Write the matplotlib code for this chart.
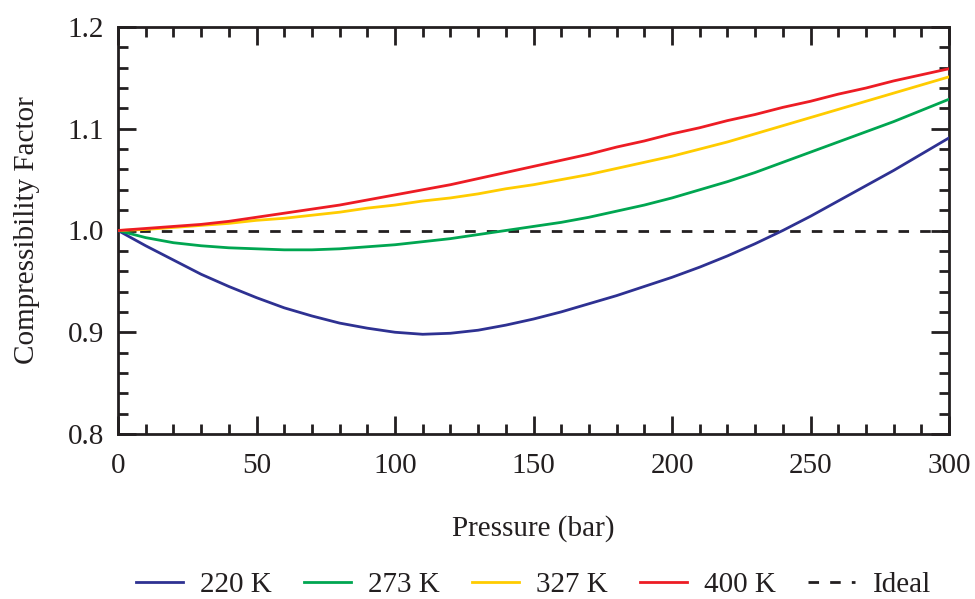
import numpy as np
import matplotlib
matplotlib.use("Agg")
import matplotlib.pyplot as plt
from matplotlib.ticker import MultipleLocator

pressure = list(range(0, 301, 10))

z_220 = [1.000, 0.985, 0.971, 0.957, 0.945, 0.934, 0.924, 0.916, 0.909, 0.904,
         0.900, 0.898, 0.899, 0.902, 0.907, 0.913, 0.920, 0.928, 0.936, 0.945,
         0.954, 0.964, 0.975, 0.987, 1.000, 1.014, 1.029, 1.044, 1.059, 1.075, 1.091]
z_273 = [1.000, 0.993, 0.988, 0.985, 0.983, 0.982, 0.981, 0.981, 0.982, 0.984,
         0.986, 0.989, 0.992, 0.996, 1.000, 1.004, 1.008, 1.013, 1.019, 1.025,
         1.032, 1.040, 1.048, 1.057, 1.067, 1.077, 1.087, 1.097, 1.107, 1.118, 1.129]
z_327 = [1.000, 1.001, 1.003, 1.005, 1.007, 1.010, 1.012, 1.015, 1.018, 1.022,
         1.025, 1.029, 1.032, 1.036, 1.041, 1.045, 1.050, 1.055, 1.061, 1.067,
         1.073, 1.080, 1.087, 1.095, 1.103, 1.111, 1.119, 1.127, 1.135, 1.143, 1.151]
z_400 = [1.000, 1.002, 1.004, 1.006, 1.009, 1.013, 1.017, 1.021, 1.025, 1.030,
         1.035, 1.040, 1.045, 1.051, 1.057, 1.063, 1.069, 1.075, 1.082, 1.088,
         1.095, 1.101, 1.108, 1.114, 1.121, 1.127, 1.134, 1.140, 1.147, 1.153, 1.159]

series_labels = ["220 K", "273 K", "327 K", "400 K"]
series_colors = ["#2E3192", "#00A651", "#FFCC00", "#ED1C24"]
ideal_x = [0, 300]
ideal_z = [1.0, 1.0]

plt.rcParams['font.family'] = ['Liberation Serif', 'DejaVu Serif']
fs = 21

fig = plt.figure(figsize=(9.75, 5.99), dpi=100)
ax = fig.add_axes([118/975, 1-434/599, (949-118)/975, (434-27)/599])

for z, lab, col in zip([z_220, z_273, z_327, z_400], series_labels, series_colors):
    ax.plot(pressure, z, color=col, lw=2.0, label=lab, zorder=3)
ax.plot(ideal_x, ideal_z, color="#231F20", lw=2.0, dashes=(3.8, 4.0), label="Ideal", zorder=2)

ax.set_xlim(0, 300)
ax.set_ylim(0.8, 1.2)
ax.xaxis.set_major_locator(MultipleLocator(50))
ax.xaxis.set_minor_locator(MultipleLocator(10))
ax.yaxis.set_major_locator(MultipleLocator(0.1))
ax.yaxis.set_minor_locator(MultipleLocator(0.02))
ax.set_xticks([0, 50, 100, 150, 200, 250, 300])
ax.set_xticklabels(["0", "50", "100", "150", "200", "250", "300"])
ax.set_yticks([0.8, 0.9, 1.0, 1.1, 1.2])
ax.set_yticklabels(["0.8", "0.9", "1.0", "1.1", "1.2"])

ax.tick_params(which='both', direction='in', top=True, right=True, color="#231F20",
               labelsize=fs, labelcolor="#231F20")
ax.tick_params(which='major', length=13, width=2.0, pad=10)
ax.tick_params(which='minor', length=7, width=2.0)
ax.tick_params(axis='x', which='major', pad=14)
for s in ax.spines.values():
    s.set_linewidth(2.0)
    s.set_color("#231F20")

ax.set_xlabel("Pressure (bar)", fontsize=fs, color="#231F20", labelpad=26)
ax.set_ylabel("Compressibility Factor", fontsize=fs, color="#231F20", labelpad=20)

leg = fig.legend(loc='center', bbox_to_anchor=(533.5/975, 1-585/599), ncol=5, frameon=False,
                 fontsize=fs, handlelength=1.6, handletextpad=0.6, columnspacing=1.1,
                 labelcolor="#231F20")

fig.savefig("out.png", dpi=100)
